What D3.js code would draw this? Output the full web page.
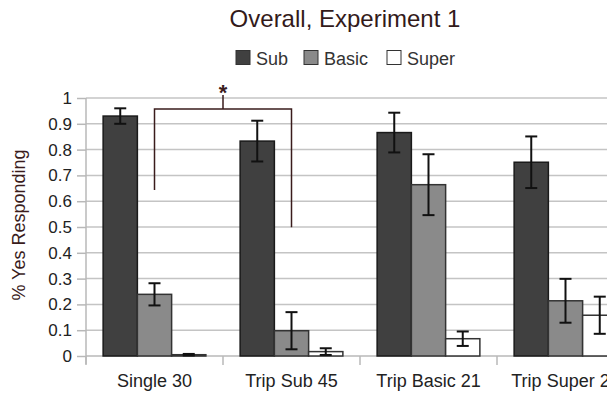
<!DOCTYPE html>
<html lang="en">
<head>
  <meta charset="UTF-8" />
  <title>Overall, Experiment 1</title>
  <style>
    body { margin: 0; background: #fff; }
    svg text { font-family: "Liberation Sans", Arial, Helvetica, sans-serif; }
    .grid line { stroke: #c4c4c4; stroke-width: 1.5; }
    .axis path, .axis line { stroke: #b8b8b8; stroke-width: 1.5; }
    .axis text { font-size: 17px; fill: #222; }
  </style>
</head>
<body>
  <div id="chart"></div>
  <script src="https://d3js.org/d3.v7.min.js"></script>
  <script>
    // data
    var categories = ["Single 30", "Trip Sub 45", "Trip Basic 21", "Trip Super 21"];
    var seriesNames = ["Sub", "Basic", "Super"];
    var seriesColors = ["#404040", "#8a8a8a", "#ffffff"];
    var subValues = [0.93, 0.833, 0.866, 0.751];
    var basicValues = [0.239, 0.098, 0.664, 0.214];
    var superValues = [0.005, 0.017, 0.067, 0.158];
    var subErr = [0.03, 0.079, 0.077, 0.10];
    var basicErr = [0.043, 0.072, 0.118, 0.085];
    var superErr = [0.003, 0.013, 0.028, 0.072];
    var yTicks = [0, 0.1, 0.2, 0.3, 0.4, 0.5, 0.6, 0.7, 0.8, 0.9, 1];

    var values = [subValues, basicValues, superValues];
    var errors = [subErr, basicErr, superErr];

    var width = 607, height = 393;
    var plot = {left: 86, right: 634, top: 98, bottom: 356};

    var svg = d3.select("#chart")
      .append("svg")
      .attr("width", width)
      .attr("height", height)
      .attr("font-family", "Liberation Sans, Arial, sans-serif");

    var x0 = d3.scaleBand()
      .domain(categories)
      .range([plot.left, plot.right])
      .paddingInner(0.25)
      .paddingOuter(0.125);

    var x1 = d3.scaleBand()
      .domain(seriesNames)
      .range([0, x0.bandwidth()]);

    var y = d3.scaleLinear()
      .domain([0, 1])
      .range([plot.bottom, plot.top]);

    // gridlines
    svg.append("g")
      .attr("class", "grid")
      .selectAll("line")
      .data(yTicks.slice(1))
      .enter().append("line")
      .attr("x1", plot.left)
      .attr("x2", width)
      .attr("y1", function(d) { return y(d); })
      .attr("y2", function(d) { return y(d); });

    // y axis
    var yAxis = svg.append("g")
      .attr("class", "axis")
      .attr("transform", "translate(" + plot.left + ",0)")
      .call(d3.axisLeft(y).tickValues(yTicks).tickFormat(d3.format("")).tickSize(9).tickPadding(5));
    yAxis.attr("font-family", null);
    yAxis.select(".domain").attr("d", "M0," + y(1) + "V" + (plot.bottom + 8));

    // x axis: ticks on the category boundaries
    var half = x0.step() * x0.paddingInner() / 2;
    var bounds = categories.map(function(c) { return x0(c) - half; });
    bounds.push(x0(categories[categories.length - 1]) + x0.bandwidth() + half);
    var xg = svg.append("g").attr("class", "axis");
    xg.append("line")
      .attr("x1", plot.left).attr("x2", width)
      .attr("y1", plot.bottom).attr("y2", plot.bottom);
    xg.selectAll("line.tick")
      .data(bounds)
      .enter().append("line")
      .attr("class", "tick")
      .attr("x1", function(d) { return d; })
      .attr("x2", function(d) { return d; })
      .attr("y1", plot.bottom)
      .attr("y2", plot.bottom + 9);
    xg.selectAll("text")
      .data(categories)
      .enter().append("text")
      .attr("x", function(d) { return x0(d) + x0.bandwidth() / 2; })
      .attr("y", 387)
      .attr("text-anchor", "middle")
      .style("font-size", "18px")
      .text(function(d) { return d; });

    // bars
    seriesNames.forEach(function(s, si) {
      var g = svg.append("g");
      g.selectAll("rect")
        .data(categories)
        .enter().append("rect")
        .attr("x", function(d) { return x0(d) + x1(s); })
        .attr("y", function(d, i) { return y(values[si][i]); })
        .attr("width", x1.bandwidth())
        .attr("height", function(d, i) { return plot.bottom - y(values[si][i]); })
        .attr("fill", seriesColors[si])
        .attr("stroke", si == 0 ? "#1a1a1a" : "#333")
        .attr("stroke-width", 1.5);

      // error bars
      var e = g.selectAll("g.err")
        .data(categories)
        .enter().append("g")
        .attr("class", "err")
        .attr("stroke", "#111")
        .attr("stroke-width", 2);
      var cx = function(d) { return x0(d) + x1(s) + x1.bandwidth() / 2; };
      e.append("line")
        .attr("x1", cx).attr("x2", cx)
        .attr("y1", function(d, i) { return y(values[si][i] + errors[si][i]); })
        .attr("y2", function(d, i) { return y(values[si][i] - errors[si][i]); });
      [1, -1].forEach(function(sign) {
        e.append("line")
          .attr("x1", function(d) { return cx(d) - 6; })
          .attr("x2", function(d) { return cx(d) + 6; })
          .attr("y1", function(d, i) { return y(values[si][i] + sign * errors[si][i]); })
          .attr("y2", function(d, i) { return y(values[si][i] + sign * errors[si][i]); });
      });
    });

    // significance bracket between Single 30 and Trip Sub 45
    var bx1 = x0(categories[0]) + x0.bandwidth() / 2;
    var bx2 = x0(categories[1]) + x0.bandwidth() / 2;
    var bTop = y(0.957);
    svg.append("path")
      .attr("d", "M" + bx1 + "," + y(0.643) + "V" + bTop + "H" + bx2 + "V" + y(0.499) +
        "M" + ((bx1 + bx2) / 2) + "," + bTop + "V" + y(1.012))
      .attr("fill", "none")
      .attr("stroke", "#3a1c1c")
      .attr("stroke-width", 1.5);
    svg.append("text")
      .attr("x", (bx1 + bx2) / 2)
      .attr("y", y(0.96) - 8)
      .attr("text-anchor", "middle")
      .style("font-size", "22px")
      .attr("font-weight", "bold")
      .attr("fill", "#3a1c1c")
      .text("*");

    // title
    svg.append("text")
      .attr("x", 345)
      .attr("y", 27)
      .attr("text-anchor", "middle")
      .style("font-size", "24px")
      .attr("fill", "#331a1a")
      .text("Overall, Experiment 1");

    // legend
    var legendX = [236, 304, 387];
    var lg = svg.append("g");
    seriesNames.forEach(function(s, i) {
      lg.append("rect")
        .attr("x", legendX[i]).attr("y", 50.5)
        .attr("width", 14).attr("height", 14)
        .attr("fill", seriesColors[i])
        .attr("stroke", "#333").attr("stroke-width", 1);
      lg.append("text")
        .attr("x", legendX[i] + 20).attr("y", 65)
        .style("font-size", "18px")
        .attr("fill", "#333")
        .text(s);
    });

    // y axis title
    svg.append("text")
      .attr("transform", "translate(25,225) rotate(-90)")
      .attr("text-anchor", "middle")
      .style("font-size", "18px")
      .attr("fill", "#3a1c1c")
      .text("% Yes Responding");
  </script>
</body>
</html>
